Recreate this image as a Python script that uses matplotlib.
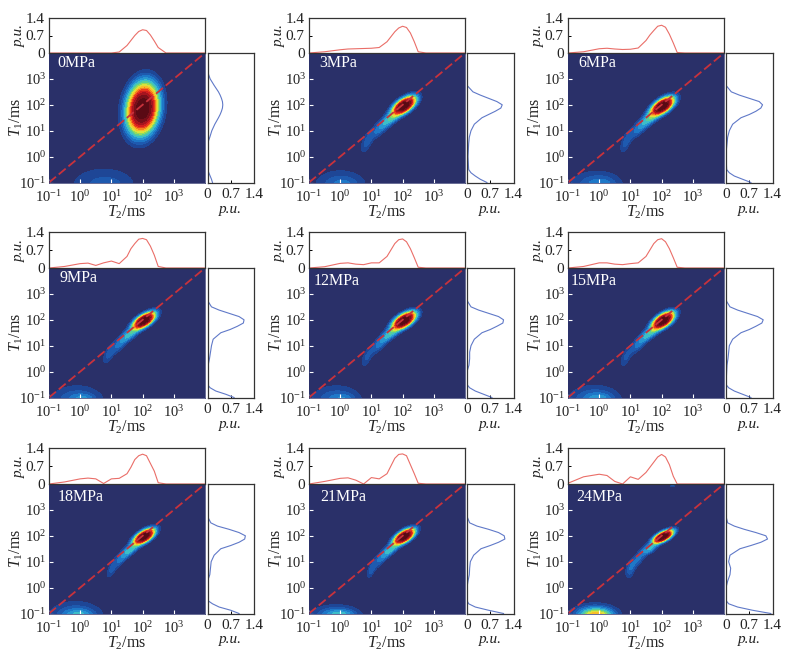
import numpy as np
import matplotlib
matplotlib.use('Agg')
import matplotlib.pyplot as plt
from matplotlib.ticker import FixedLocator, NullLocator

plt.rcParams['font.family'] = ['Liberation Serif', 'DejaVu Serif']
plt.rcParams['mathtext.fontset'] = 'custom'
plt.rcParams['mathtext.rm'] = 'Liberation Serif'
plt.rcParams['mathtext.it'] = 'Liberation Serif:italic'
plt.rcParams['mathtext.bf'] = 'Liberation Serif:bold'

labels = ['0MPa', '3MPa', '6MPa', '9MPa', '12MPa', '15MPa', '18MPa', '21MPa', '24MPa']

## log10(T2) where the top curves were read
t2_log = [-1, -0.5, 0, 0.25, 0.5, 0.75, 1, 1.25, 1.5, 1.625, 1.75, 1.875, 2, 2.125, 2.25, 2.375, 2.5, 2.75, 3, 4]
t2_0 = [0, 0, 0, 0, 0, 0, 0, .04, .3, .5, .7, .86, .93, .9, .72, .48, .22, 0, 0, 0]
t2_3 = [0, .05, .13, .16, .17, .18, .19, .22, .45, .65, .85, 1.0, 1.07, 1.02, .8, .45, .05, 0, 0, 0]
t2_6 = [0, .05, .17, .19, .16, .14, .15, .2, .5, .72, .9, 1.07, 1.11, 1.03, .75, .4, .02, 0, 0, 0]
t2_9 = [0, .06, .17, .19, .1, .2, .27, .17, .45, .75, .95, 1.12, 1.15, 1.1, .85, .5, .06, 0, 0, 0]
t2_12 = [0, .05, .18, .2, .15, .13, .2, .2, .45, .7, .95, 1.1, 1.13, 1.02, .75, .4, .03, 0, 0, 0]
t2_15 = [0, .06, .2, .2, .15, .13, .17, .2, .45, .7, .95, 1.1, 1.14, 1.02, .75, .4, .03, 0, 0, 0]
t2_18 = [0, .08, .2, .23, .2, .02, .2, .22, .4, .65, .95, 1.1, 1.16, 1.1, .8, .5, .05, 0, 0, 0]
t2_21 = [0, .1, .22, .24, .15, 0, .25, .2, .4, .7, 1.0, 1.15, 1.17, 1.1, .75, .4, .03, 0, 0, 0]
t2_24 = [.03, .28, .38, .33, .1, 0, .28, .18, .45, .65, .85, 1.05, 1.15, 1.05, .75, .3, 0, 0, 0, 0]
t2_curves = [t2_0, t2_3, t2_6, t2_9, t2_12, t2_15, t2_18, t2_21, t2_24]

## log10(T1) where the right curves were read
t1_log = [-1, -0.875, -0.75, -0.625, -0.5, 0, 0.25, 0.5, 0.75, 1, 1.25, 1.5, 1.625, 1.75, 1.875, 2, 2.125, 2.25, 2.375, 2.5, 2.75, 3, 3.25, 4]
t1_0 = [.15, .12, .08, .04, 0, 0, 0, 0, .07, .13, .22, .33, .38, .42, .45, .46, .45, .42, .38, .33, .2, .08, .01, 0]
t1_3 = [.6, .4, .25, .12, .05, .03, .04, .05, .07, .12, .22, .45, .65, .85, 1.02, 1.06, .9, .65, .4, .18, 0, 0, 0, 0]
t1_6 = [.75, .5, .25, .1, .02, 0, .01, .03, .05, .1, .2, .45, .7, .9, 1.05, 1.1, 1.0, .7, .4, .16, 0, 0, 0, 0]
t1_9 = [.8, .55, .25, .08, 0, 0, .02, .06, .09, .12, .17, .4, .68, .9, 1.08, 1.1, .95, .65, .35, .12, 0, 0, 0, 0]
t1_12 = [.75, .5, .25, .08, 0, 0, .06, .08, .08, .12, .22, .45, .7, .9, 1.08, 1.1, .95, .65, .35, .12, 0, 0, 0, 0]
t1_15 = [.75, .5, .25, .08, 0, .02, .03, .06, .08, .1, .2, .45, .7, .9, 1.08, 1.12, .95, .65, .35, .12, 0, 0, 0, 0]
t1_18 = [.95, .7, .35, .15, .01, 0, 0, .07, .09, .11, .2, .4, .7, .95, 1.12, 1.14, .95, .65, .3, .1, 0, 0, 0, 0]
t1_21 = [1.1, .65, .25, .05, 0, 0, .03, .07, .08, .1, .2, .42, .7, .95, 1.14, 1.12, .95, .65, .3, .08, 0, 0, 0, 0]
t1_24 = [1.35, .8, .35, .08, 0, 0, .05, .12, .14, .08, .12, .42, .75, 1.05, 1.25, 1.2, .9, .55, .25, .05, 0, 0, 0, 0]
t1_curves = [t1_0, t1_3, t1_6, t1_9, t1_12, t1_15, t1_18, t1_21, t1_24]

## 2D map read as peaks: amplitude, log T2, log T1, width T2, width T1, tilt
peaks_0 = [(1.5, 2.0, 1.85, .3, .58, .15), (.1, .75, -1.1, .8, .52, 0), (.04, .9, -1.2, .3, .2, 0)]
peaks_3 = [(1.5, 2.05, 1.97, .22, .21, .62), (.24, 1.6, 1.45, .22, .22, .7), (.13, 1.25, 1.05, .2, .25, .7),
           (.1, .85, .55, .14, .3, .6), (.12, 0, -1.15, .6, .45, 0), (.04, .1, -1.1, .3, .2, 0),
           (.07, 1.5, -1.1, .2, .1, 0)]
peaks_6 = [(1.5, 2.03, 1.95, .22, .21, .62), (.24, 1.6, 1.45, .22, .22, .7), (.13, 1.25, 1.05, .2, .25, .7),
           (.1, .85, .55, .13, .3, .6), (.13, -.1, -1.15, .6, .42, 0), (.06, .1, -1.1, .28, .2, 0),
           (.07, 1.5, -1.1, .15, .08, 0)]
peaks_9 = [(1.5, 2.05, 1.97, .21, .19, .65), (.24, 1.6, 1.45, .2, .2, .7), (.13, 1.25, 1.05, .18, .25, .7),
           (.09, .9, .65, .13, .28, .6), (.14, -.1, -1.15, .58, .42, 0), (.1, .1, -1.1, .22, .14, 0),
           (.09, 1.5, -1.15, .15, .1, 0)]
peaks_12 = [(1.5, 2.05, 1.97, .22, .2, .62), (.24, 1.6, 1.45, .2, .2, .7), (.13, 1.25, 1.05, .18, .25, .7),
            (.09, .85, .55, .13, .28, .6), (.14, -.12, -1.15, .56, .42, 0), (.08, .1, -1.1, .22, .14, 0),
            (.07, 1.5, -1.15, .15, .09, 0)]
peaks_15 = [(1.5, 2.05, 1.97, .21, .2, .62), (.24, 1.6, 1.45, .2, .2, .7), (.13, 1.25, 1.05, .18, .25, .7),
            (.09, .85, .55, .13, .28, .6), (.15, -.15, -1.12, .58, .4, 0), (.12, 0, -1.1, .24, .15, 0),
            (.12, 1.55, -1.15, .15, .1, 0)]
peaks_18 = [(1.5, 2.05, 1.97, .2, .18, .65), (.24, 1.6, 1.45, .18, .18, .7), (.13, 1.3, 1.1, .16, .23, .7),
            (.09, 1.0, .7, .11, .26, .6), (.15, -.15, -1.1, .58, .38, 0), (.17, -.03, -1.1, .26, .14, 0),
            (.09, 1.5, -1.15, .15, .08, 0)]
peaks_21 = [(1.5, 2.05, 1.97, .2, .18, .65), (.24, 1.6, 1.45, .18, .18, .7), (.13, 1.3, 1.1, .16, .23, .7),
            (.1, 1.0, .7, .1, .25, .6), (.16, -.15, -1.12, .55, .3, 0), (.2, 0, -1.12, .28, .15, 0)]
peaks_24 = [(1.5, 2.05, 1.97, .19, .15, .68), (.24, 1.6, 1.5, .17, .15, .6), (.13, 1.25, 1.1, .14, .2, .6),
            (.12, 1.0, .72, .11, .25, .4), (.2, -.15, -1.1, .5, .3, 0), (.45, -.09, -1.1, .3, .17, 0),
            (.12, 1.45, -1.12, .15, .08, 0), (.12, 2.35, 4.0, .06, .08, 0)]
peaks = [peaks_0, peaks_3, peaks_6, peaks_9, peaks_12, peaks_15, peaks_18, peaks_21, peaks_24]

levels = [0, .05, .09, .13, .18, .24, .3, .36, .42, .5, .58, .66, .75, .85, 1.0, 1.2, 1.7]
colors = ['#2a3069', '#1e4696', '#1e5aaf', '#1e78c8', '#2896d2', '#3cbec8', '#5acd96', '#96dc5a',
          '#dce13c', '#fabe28', '#f5821e', '#eb3c1e', '#d21e1e', '#a5141e', '#780f19', '#5a0a14']

W, H = 788., 657.
main_x = [49, 309, 568]
side_x = [207.5, 467, 726]
main_y = [53, 268, 484]
top_y = [18, 232, 448]
label_dx = [8, 10, 10, 11, 5, 3, 9, 11, 8]
label_dy = [10, 10, 10, 10, 13, 13, 13, 13, 13]
spine_c = '#333333'
txt_c = '#222222'
dec = [1e-1, 1e0, 1e1, 1e2, 1e3]
pu = [0, .7, 1.4]


def add_ax(fig, x, y, w, h):
	## pixel box, y from the top
	return fig.add_axes([x/W, 1-(y+h)/H, w/W, h/H])


def peak_map(gx, gy, plist):
	z = np.zeros_like(gx)
	for a, x0, y0, sx, sy, r in plist:
		dx = (gx-x0)/sx
		dy = (gy-y0)/sy
		z += a*np.exp(-(dx*dx-2*r*dx*dy+dy*dy)/(2*(1-r*r)))
	return z


fig = plt.figure(figsize=(W/100, H/100), dpi=100, facecolor='white')
g = np.linspace(-1, 4, 300)
gx, gy = np.meshgrid(g, g)

for i in range(9):
	col = i % 3
	row = i//3
	x0, y0 = main_x[col], main_y[row]

	## main map
	ax = add_ax(fig, x0, y0, 156, 129.5)
	ax.contourf(10**gx, 10**gy, np.clip(peak_map(gx, gy, peaks[i]), 0, 1.69), levels=levels, colors=colors)
	ax.plot([1e-1, 1e4], [1e-1, 1e4], color='#c8323c', lw=1.3, dashes=(5, 2))
	ax.set_xscale('log')
	ax.set_yscale('log')
	ax.set_xlim(1e-1, 1e4)
	ax.set_ylim(1e-1, 1e4)
	ax.xaxis.set_major_locator(FixedLocator(dec))
	ax.yaxis.set_major_locator(FixedLocator(dec))
	ax.xaxis.set_minor_locator(NullLocator())
	ax.yaxis.set_minor_locator(NullLocator())
	ax.tick_params(direction='in', color='white', length=3, width=.8, labelsize=10.5, labelcolor=txt_c)
	ax.tick_params(axis='x', pad=5)
	ax.tick_params(axis='y', pad=2)
	ax.set_xlabel('$T_2$/ms', fontsize=11.5, color=txt_c)
	ax.set_ylabel('$T_1$/ms', fontsize=11.5, color=txt_c)
	ax.xaxis.set_label_coords(.5, -21/129.5)
	ax.yaxis.set_label_coords(-24/156., .5)
	for s in ax.spines.values():
		s.set_color('#2a3069')
		s.set_linewidth(.5)
	ax.text(label_dx[i]/156., 1-label_dy[i]/129.5, labels[i], transform=ax.transAxes, color='white',
		fontsize=11.5, ha='left', va='center')

	## T2 projection
	top = add_ax(fig, x0, top_y[row], 156, y0-top_y[row])
	top.plot(10**np.array(t2_log), t2_curves[i], color='#ea6e68', lw=.8)
	top.set_xscale('log')
	top.set_xlim(1e-1, 1e4)
	top.set_ylim(0, 1.4)
	top.xaxis.set_major_locator(NullLocator())
	top.xaxis.set_minor_locator(NullLocator())
	top.set_yticks(pu)
	top.set_yticklabels(['0', '0.7', '1.4'])
	top.tick_params(direction='in', length=2, width=.7, labelsize=11, pad=3, labelcolor=txt_c)
	top.set_ylabel('p.u.', fontsize=11, style='italic', color=txt_c)
	top.yaxis.set_label_coords(-23/156., .5)

	## T1 projection
	side = add_ax(fig, side_x[col], y0, 46.5, 129.5)
	side.plot(t1_curves[i], 10**np.array(t1_log), color='#6079c8', lw=.8)
	side.set_yscale('log')
	side.set_ylim(1e-1, 1e4)
	side.set_xlim(0, 1.4)
	side.yaxis.set_major_locator(NullLocator())
	side.yaxis.set_minor_locator(NullLocator())
	side.set_xticks(pu)
	side.set_xticklabels(['0', '0.7', '1.4'])
	side.tick_params(direction='in', length=2, width=.7, labelsize=11, pad=4, labelcolor=txt_c)
	side.set_xlabel('p.u.', fontsize=11, style='italic', color=txt_c)
	side.xaxis.set_label_coords(.5, -20/129.5)

	for a in (top, side):
		for s in a.spines.values():
			s.set_color(spine_c)
			s.set_linewidth(.9)

fig.savefig('out.png', dpi=100)
